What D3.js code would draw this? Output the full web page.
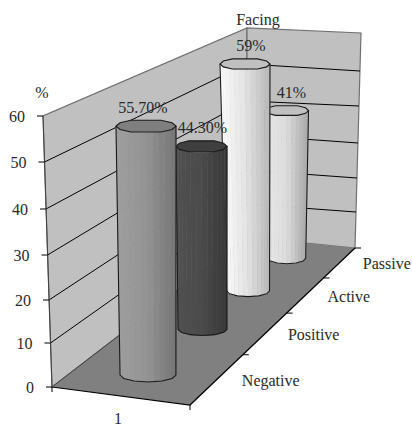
<!DOCTYPE html>
<html>
<head>
<meta charset="utf-8">
<script src="https://cdn.jsdelivr.net/npm/d3@7"></script>
<style>
  body { margin: 0; background: #fff; }
  text { font-family: "Liberation Serif", serif; font-size: 16px; fill: #2a2a2a; }
</style>
</head>
<body>
<div id="chart"></div>
<script>
const categories = ["Negative", "Positive", "Active", "Passive"];
const values = [55.7, 44.3, 59, 41];
const valueLabels = ["55.70%", "44.30%", "59%", "41%"];
const valueTicks = [0, 10, 20, 30, 40, 50, 60];
const seriesLabel = ["1"];

const edgeColors = [
  ["#9e9e9e", "#939393", "#757575"],
  ["#505050", "#4a4a4a", "#383838"],
  ["#fbfbfb", "#e2e2e2", "#b8b8b8"],
  ["#e8e8e8", "#dcdcdc", "#a8a8a8"]
];
const topColors = ["#7f7f7f", "#3f3f3f", "#c0c0c0", "#c0c0c0"];

const svg = d3.select("#chart").append("svg")
    .attr("width", 412)
    .attr("height", 426)
    .style("display", "block");

// the 3d box is three scales per corner
const yLeft = d3.scaleLinear().domain(valueTicks).range([387, 343, 300, 255, 209, 162, 116]);
const yBack = d3.scaleLinear().domain(valueTicks).range([237, 204, 170, 135, 101, 64, 28]);
const yRight = d3.scaleLinear().domain(valueTicks).range([248, 212, 178, 143, 106, 71, 33]);
const xLeft = d3.scaleLinear().domain([0, 60]).range([52, 43]);
const xRight = d3.scaleLinear().domain([0, 60]).range([355, 361]);
const xBack = 247;

// perspective along the depth axis, 0 = front, 1 = back
const k = 0.708;
const depth = d => d / (d + k * (categories.length - d));

const front = {left: [52, 387], right: [190, 405]};
const edgeX = d3.scaleLinear().domain([0, 1]).range([190, 355]);
const edgeY = d3.scaleLinear().domain([0, 1]).range([405, 248]);

// cylinder placement against depth
const barDepths = categories.map((c, i) => depth(i + 0.5));
const baseX = d3.scaleLinear().domain([0, 1]).range([116.5, 304]);
const baseY = d3.scaleLinear().domain([0, 1]).range([401.5, 244]);
const topX = d3.scaleLinear().domain(barDepths).range([146, 201.5, 245, 286.5]);
const baseR = d3.scaleLinear().domain([0, 1]).range([30, 17.8]);
const topR = d3.scaleLinear().domain(barDepths).range([30, 25.5, 25, 22]);
const pxPerUnit = d3.scaleLinear().domain([0, 1]).range([4.665, 3.5]);
const baseRy = d3.scaleLinear().domain([0, 1]).range([7.3, 5]);
const topRy = d3.scaleLinear().domain([0, 1]).range([7, 5.4]);

const line = d3.line();

// Walls
svg.append("path")
    .attr("d", line([[xLeft(0), yLeft(0)], [xLeft(60), yLeft(60)], [xBack, yBack(60)], [xBack, yBack(0)]]) + "Z")
    .attr("fill", "#c0c0c0").attr("stroke", "#707070").attr("stroke-width", 1.2);
svg.append("path")
    .attr("d", line([[xBack, yBack(0)], [xBack, yBack(60)], [xRight(60), yRight(60)], [xRight(0), yRight(0)]]) + "Z")
    .attr("fill", "#c0c0c0").attr("stroke", "#707070").attr("stroke-width", 1.2);

// Gridlines
valueTicks.slice(1, -1).forEach(v => {
  svg.append("path")
      .attr("d", line([[xLeft(v), yLeft(v)], [xBack, yBack(v)], [xRight(v), yRight(v)]]))
      .attr("fill", "none").attr("stroke", "#000").attr("stroke-width", 1);
});

// Floor
svg.append("path")
    .attr("d", line([front.left, front.right, [edgeX(1), edgeY(1)], [xBack, yBack(0)]]) + "Z")
    .attr("fill", "#808080");
svg.append("path")
    .attr("d", line([front.left, front.right, [edgeX(1), edgeY(1)]]))
    .attr("fill", "none").attr("stroke", "#000").attr("stroke-width", 1.2);
svg.append("path")
    .attr("d", line([[xBack, yBack(0)], front.left, [xLeft(60), yLeft(60)]]))
    .attr("fill", "none").attr("stroke", "#404040").attr("stroke-width", 1);

// Y axis ticks and labels
valueTicks.forEach(v => {
  svg.append("line")
      .attr("x1", xLeft(v) - 6).attr("x2", xLeft(v))
      .attr("y1", yLeft(v)).attr("y2", yLeft(v))
      .attr("stroke", "#000");
  svg.append("text")
      .attr("x", xLeft(v) - 18).attr("y", yLeft(v) + 5.5)
      .attr("text-anchor", "end")
      .text(v);
});

// Depth axis ticks and labels
d3.range(1, categories.length + 1).forEach(d => {
  const t = depth(d);
  svg.append("line")
      .attr("x1", edgeX(t)).attr("x2", edgeX(t) + 6)
      .attr("y1", edgeY(t)).attr("y2", edgeY(t))
      .attr("stroke", "#000");
});
const depthLabelGap = [53, 48, 43, 47];
categories.forEach((c, i) => {
  const t = barDepths[i];
  svg.append("text")
      .attr("x", edgeX(t) + depthLabelGap[i]).attr("y", edgeY(t) + 7)
      .attr("text-anchor", "middle")
      .text(c);
});

// Front axis ticks
[front.left, front.right].forEach(p => {
  svg.append("line")
      .attr("x1", p[0]).attr("x2", p[0])
      .attr("y1", p[1]).attr("y2", p[1] + 5)
      .attr("stroke", "#000");
});
svg.append("text").attr("x", 118).attr("y", 424).attr("text-anchor", "middle").text(seriesLabel[0]);

// Bars, back to front
const sides = 12;
const bands = 14;
// the cap has a flat top and bottom edge, so no corner at 90 degrees
const capAngles = [0, 30, 60, 120, 150, 180, 210, 240, 300, 330];
const barOrder = d3.range(values.length).reverse();

barOrder.forEach(i => {
  const t = barDepths[i];
  const bx = baseX(t), by = baseY(t), br = baseR(t), bry = baseRy(t);
  const tx = topX(t), ty = by - values[i] * pxPerUnit(t), tr = topR(t), try_ = topRy(t);
  const shade = d3.scaleLinear().domain([-1, 0, 1]).range(edgeColors[i]);
  const bar = svg.append("g");

  const pt = (cx, cy, r, ry, a) => [cx + r * Math.cos(a), cy + ry * Math.sin(a)];

  // front face bands, left to right
  d3.range(bands).forEach(b => {
    const a0 = Math.PI - Math.PI * b / bands;
    const a1 = Math.PI - Math.PI * (b + 1) / bands;
    const mid = Math.cos((a0 + a1) / 2);
    bar.append("path")
        .attr("d", line([pt(tx, ty, tr, try_, a0), pt(tx, ty, tr, try_, a1), pt(bx, by, br, bry, a1), pt(bx, by, br, bry, a0)]) + "Z")
        .attr("fill", shade(mid))
        .attr("stroke", shade(mid))
        .attr("stroke-width", 0.5);
  });

  // outline of the sides and the base
  const lower = d3.range(sides / 2 + 1).map(s => pt(bx, by, br, bry, Math.PI - Math.PI * s / (sides / 2)));
  bar.append("path")
      .attr("d", line([pt(tx, ty, tr, try_, Math.PI), ...lower, pt(tx, ty, tr, try_, 0)]))
      .attr("fill", "none").attr("stroke", "#1a1a1a").attr("stroke-width", 1.1);

  // top cap
  const cap = capAngles.map(a => pt(tx, ty, tr, try_, a * Math.PI / 180));
  bar.append("path")
      .attr("d", line(cap) + "Z")
      .attr("fill", topColors[i]).attr("stroke", "#1a1a1a").attr("stroke-width", 1.1);
});

// Data labels
const labelShift = [-3, 1, 6, 5];
values.forEach((v, i) => {
  const t = barDepths[i];
  const ty = baseY(t) - v * pxPerUnit(t);
  svg.append("text")
      .attr("x", topX(t) + labelShift[i])
      .attr("y", ty - 13)
      .attr("text-anchor", "middle")
      .text(valueLabels[i]);
});

// Axis titles
svg.append("text").attr("x", 42).attr("y", 98).attr("text-anchor", "middle").text("%");
svg.append("text").attr("x", 258).attr("y", 25).attr("text-anchor", "middle").text("Facing");
</script>
</body>
</html>
